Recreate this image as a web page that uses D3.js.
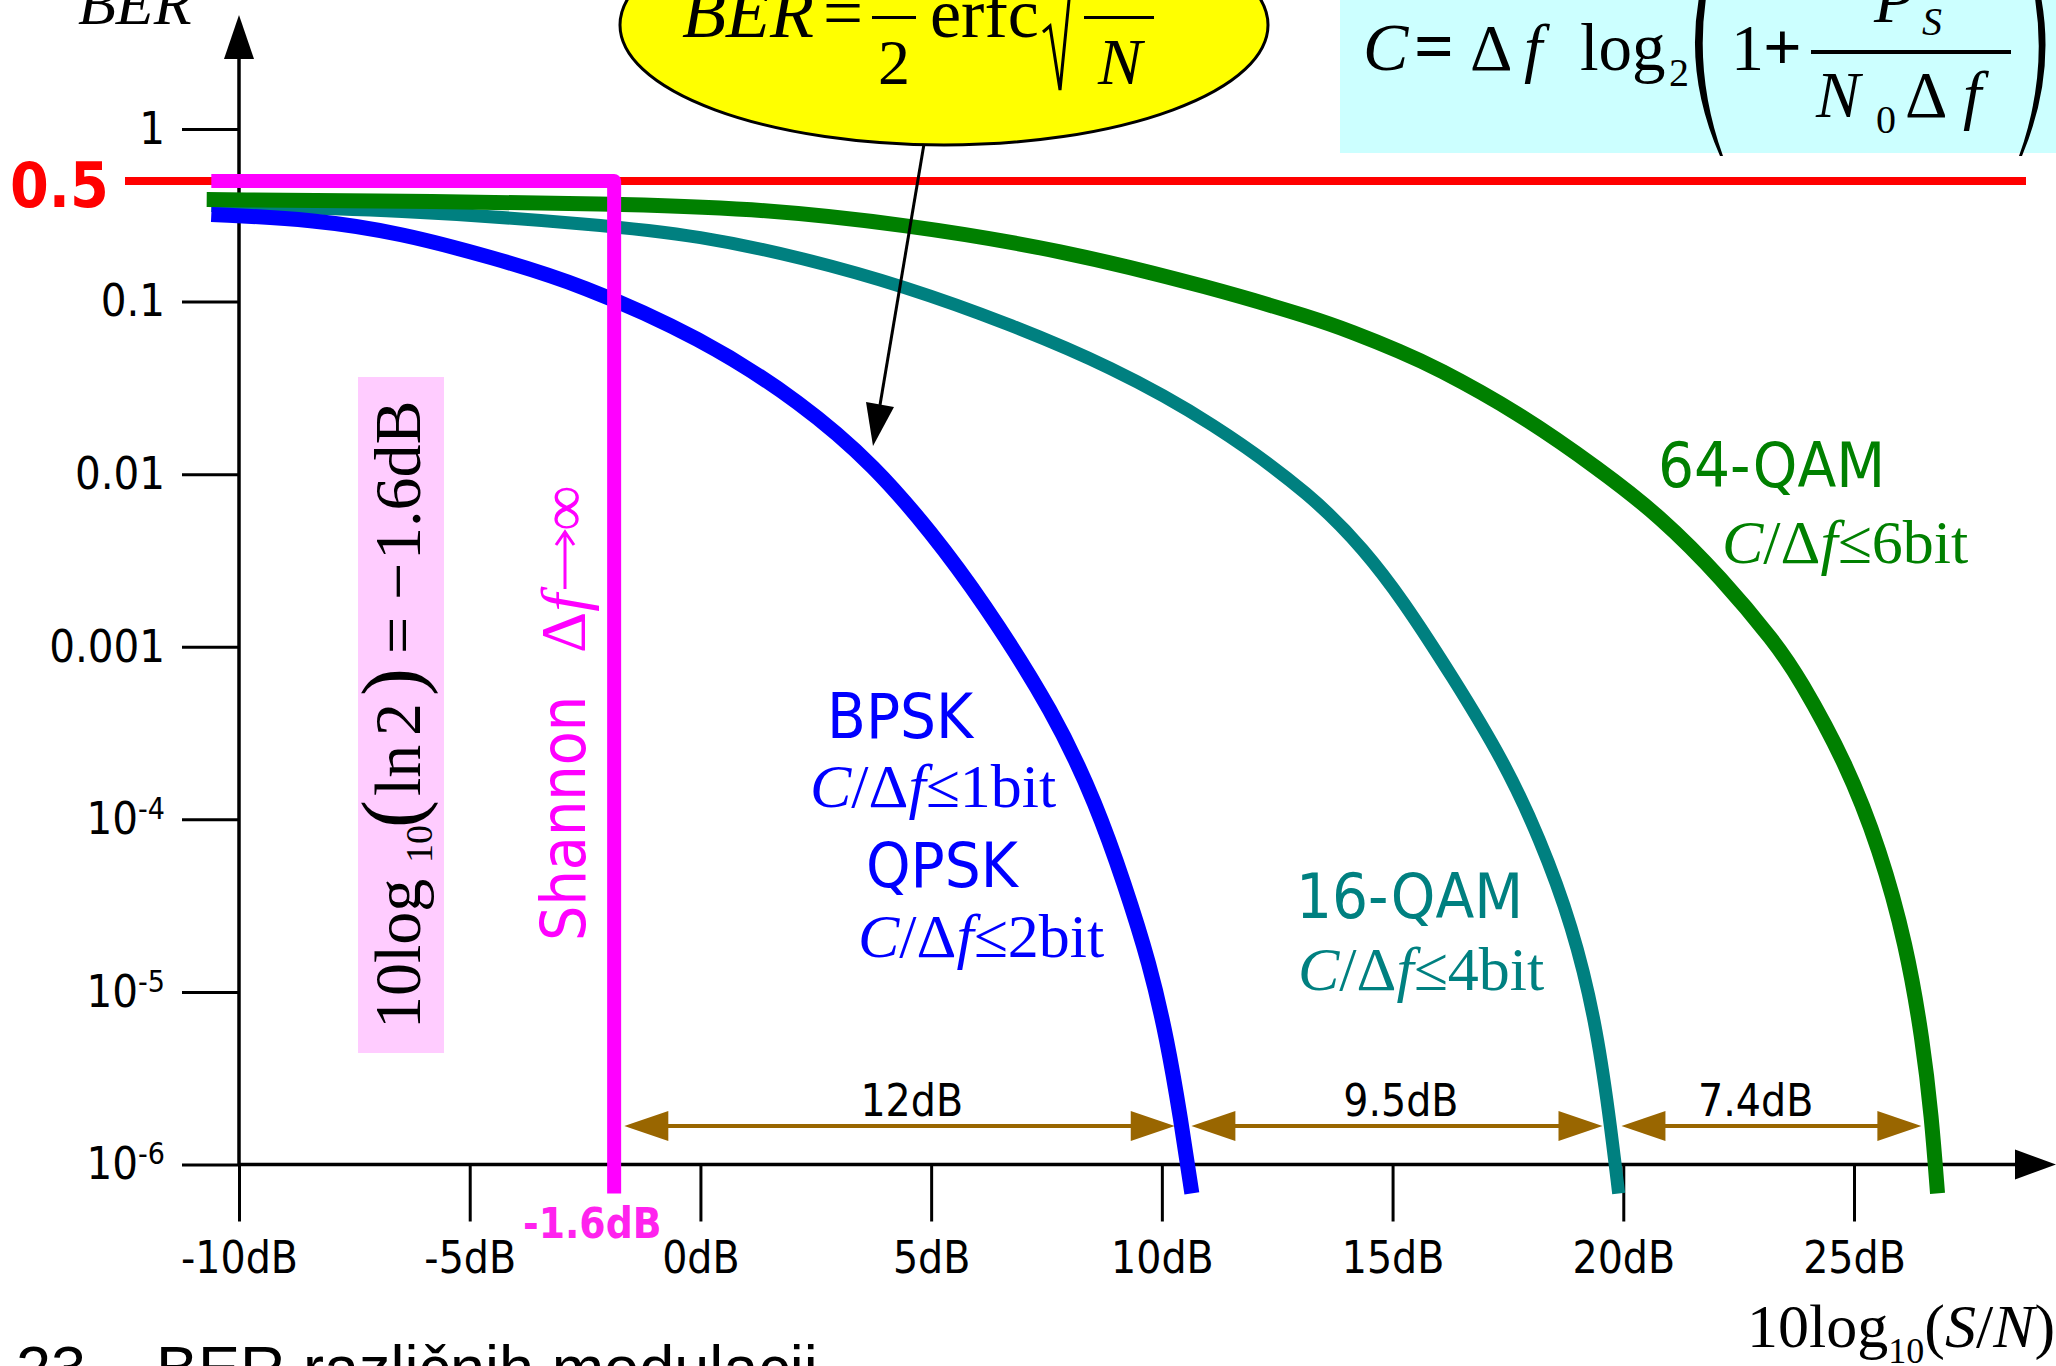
<!DOCTYPE html>
<html>
<head>
<meta charset="utf-8">
<script src="https://cdn.jsdelivr.net/npm/d3@7"></script>
<style>
body { margin: 0; background: white; }
</style>
</head>
<body>
<script>
// axis ticks
let dbTicks = [-10, -5, 0, 5, 10, 15, 20, 25];
let dbTickLabels = ["-10dB", "-5dB", "0dB", "5dB", "10dB", "15dB", "20dB", "25dB"];
let berTicks = [1, 0.1, 0.01, 0.001, 1e-4, 1e-5, 1e-6];
let berTickBase = ["1", "0.1", "0.01", "0.001", "10", "10", "10"];
let berTickExp = ["", "", "", "", "-4", "-5", "-6"];

// BER curves (dB, BER)
let bpskDb = [-10.6, -8.4, -6.5, -4.5, -2.6, 0.0, 2.2, 3.8, 5.0, 6.08, 7.68, 8.59, 9.18, 9.74, 10.12, 10.4, 10.65];
let bpskBer = [0.32, 0.30, 0.25, 0.18, 0.126, 0.062, 0.026, 0.011, 0.0046, 0.0019, 4.1e-4, 1.2e-4, 4.3e-5, 1.45e-5, 5.2e-6, 1.9e-6, 6.8e-7];

let qam16Db = [-10.6, -6.5, -2.2, 0.0, 2.2, 4.45, 6.65, 8.9, 11.1, 13.3, 14.4, 15.2, 16.3, 17.4, 18.19, 18.9, 19.4, 19.7, 19.9];
let qam16Ber = [0.36, 0.34, 0.28, 0.24, 0.18, 0.122, 0.075, 0.042, 0.020, 0.0074, 0.0036, 0.0019, 6.7e-4, 2.2e-4, 7.8e-5, 2.4e-5, 6.8e-6, 1.9e-6, 6.8e-7];

let qam64Db = [-10.7, -5.5, -2.2, 1.1, 4.45, 7.8, 11.1, 13.3, 14.1, 15.2, 15.9, 17.7, 19.5, 20.8, 22.13, 23.3, 23.8, 24.84, 25.56, 26.13, 26.49, 26.68, 26.81];
let qam64Ber = [0.39, 0.38, 0.37, 0.35, 0.28, 0.20, 0.12, 0.080, 0.067, 0.051, 0.042, 0.023, 0.0106, 0.0057, 0.0025, 0.00105, 6.7e-4, 2.1e-4, 6.7e-5, 1.9e-5, 5.2e-6, 1.9e-6, 6.8e-7];

// Shannon limit and reference level
let shannonDb = -1.87;
let shannonStartDb = -10.6;
let shannonEndBer = 6.8e-7;
let halfBer = 0.5;

// gaps between curves
let gapFromDb = [-1.65, 10.64, 19.96];
let gapToDb = [10.28, 19.55, 26.46];
let gapLabelDb = [4.58, 15.18, 22.87];
let gapLabels = ["12dB", "9.5dB", "7.4dB"];
let gapBer = 1.67e-6;

let width = 2056;
let height = 1366;

let sansCond = '"DejaVu Sans Condensed", "DejaVu Sans", sans-serif';
let serif = '"Liberation Serif", "Times New Roman", serif';
let sans = '"Liberation Sans", Arial, sans-serif';

let svg = d3
    .select("body")
    .append("svg")
    .attr("width", width)
    .attr("height", height)
    .style("display", "block")
    .style("background-color", "white");

let x = d3.scaleLinear().domain([-10, 25]).range([239, 1854]);
let y = d3.scaleLog().domain([1e-6, 1]).range([1164.5, 129]);

// background boxes
svg.append("rect")
    .attr("x", 1340).attr("y", 0).attr("width", 716).attr("height", 153)
    .style("fill", "#ccffff");

svg.append("rect")
    .attr("x", 358).attr("y", 377).attr("width", 86).attr("height", 676)
    .style("fill", "#ffccff");

svg.append("ellipse")
    .attr("cx", 944).attr("cy", 25).attr("rx", 324).attr("ry", 120)
    .style("fill", "#ffff00")
    .style("stroke", "black")
    .style("stroke-width", 3);

// x axis
let gx = svg.append("g")
    .attr("transform", "translate(0," + y(1e-6) + ")")
    .call(d3.axisBottom(x)
        .tickValues(dbTicks)
        .tickSize(57)
        .tickPadding(20)
        .tickFormat(function (d, i) { return dbTickLabels[i]; }));
gx.select(".domain").remove();
gx.selectAll("line").style("stroke", "black").style("stroke-width", 3);
gx.selectAll("text")
    .style("font-family", sansCond)
    .style("font-size", "44px")
    .style("fill", "black");

// y axis
let gy = svg.append("g")
    .attr("transform", "translate(" + x(-10) + ",0)")
    .call(d3.axisLeft(y)
        .tickValues(berTicks)
        .tickSize(57)
        .tickPadding(17)
        .tickFormat(""));
gy.select(".domain").remove();
gy.selectAll("line").style("stroke", "black").style("stroke-width", 3);
gy.selectAll("text")
    .style("font-family", sansCond)
    .style("font-size", "45px")
    .style("fill", "black")
    .each(function (d, i) {
        let t = d3.select(this);
        t.text(berTickBase[i]);
        if (berTickExp[i] !== "") {
            t.append("tspan")
                .attr("dy", "-0.5em")
                .style("font-size", "30px")
                .text(berTickExp[i]);
        }
    });

// axis lines with arrow heads
svg.append("line")
    .attr("x1", x(-10)).attr("y1", y(1e-6)).attr("x2", x(-10)).attr("y2", 40)
    .style("stroke", "black").style("stroke-width", 3.5);
svg.append("path")
    .attr("d", "M" + x(-10) + ",15 L" + (x(-10) - 15) + ",59 L" + (x(-10) + 15) + ",59 Z")
    .style("fill", "black");
svg.append("line")
    .attr("x1", x(-10)).attr("y1", y(1e-6)).attr("x2", 2025).attr("y2", y(1e-6))
    .style("stroke", "black").style("stroke-width", 3.5);
svg.append("path")
    .attr("d", "M2056," + y(1e-6) + " L2015," + (y(1e-6) - 15) + " L2015," + (y(1e-6) + 15) + " Z")
    .style("fill", "black");

// red 0.5 line
svg.append("line")
    .attr("x1", 125).attr("x2", 2026)
    .attr("y1", y(halfBer)).attr("y2", y(halfBer))
    .style("stroke", "#ff0000")
    .style("stroke-width", 8);

svg.append("text")
    .attr("x", 10)
    .attr("y", y(halfBer) + 26)
    .text("0.5")
    .style("font-family", sansCond)
    .style("font-weight", "bold")
    .style("font-size", "62px")
    .style("fill", "#ff0000");

// curves
let line = d3.line()
    .x(function (d) { return x(d[0]); })
    .y(function (d) { return y(d[1]); })
    .curve(d3.curveBasis);

let series = [
    { db: qam16Db, ber: qam16Ber, color: "#008080", w: 13 },
    { db: qam64Db, ber: qam64Ber, color: "#008000", w: 15 },
    { db: bpskDb, ber: bpskBer, color: "#0000ff", w: 15 }
];

svg.append("g")
    .selectAll("path")
    .data(series)
    .enter()
    .append("path")
    .attr("d", function (s) {
        return line(s.db.map(function (v, i) { return [v, s.ber[i]]; }));
    })
    .style("fill", "none")
    .style("stroke", function (s) { return s.color; })
    .style("stroke-width", function (s) { return s.w; });

// Shannon limit
let straight = d3.line()
    .x(function (d) { return x(d[0]); })
    .y(function (d) { return y(d[1]); });

svg.append("path")
    .attr("d", straight([
        [shannonStartDb, halfBer],
        [shannonDb, halfBer],
        [shannonDb, shannonEndBer]
    ]))
    .style("fill", "none")
    .style("stroke", "#ff00ff")
    .style("stroke-width", 14)
    .style("stroke-linejoin", "round");

svg.append("text")
    .attr("x", 523)
    .attr("y", 1238)
    .text("-1.6dB")
    .style("font-family", sansCond)
    .style("font-weight", "bold")
    .style("font-size", "42px")
    .style("fill", "#ff22ee");

// gap arrows
let brown = "#996600";
let ay = y(gapBer);
gapFromDb.forEach(function (v, i) {
    let x1 = x(v);
    let x2 = x(gapToDb[i]);
    svg.append("line")
        .attr("x1", x1 + 20).attr("x2", x2 - 20).attr("y1", ay).attr("y2", ay)
        .style("stroke", brown).style("stroke-width", 4);
    svg.append("path")
        .attr("d", "M" + x1 + "," + ay + " L" + (x1 + 44) + "," + (ay - 15) + " L" + (x1 + 44) + "," + (ay + 15) + " Z")
        .style("fill", brown);
    svg.append("path")
        .attr("d", "M" + x2 + "," + ay + " L" + (x2 - 44) + "," + (ay - 15) + " L" + (x2 - 44) + "," + (ay + 15) + " Z")
        .style("fill", brown);
    svg.append("text")
        .attr("x", x(gapLabelDb[i]))
        .attr("y", ay - 10)
        .attr("text-anchor", "middle")
        .text(gapLabels[i])
        .style("font-family", sansCond)
        .style("font-size", "44px")
        .style("fill", "black");
});

// callout arrow from the formula
svg.append("line")
    .attr("x1", 924).attr("y1", 144).attr("x2", 880).attr("y2", 405)
    .style("stroke", "black").style("stroke-width", 3);
svg.append("path")
    .attr("d", "M866,402 L894,407 L873,446 Z")
    .style("fill", "black");

// modulation labels
function ratioLabel(xp, yp, bits, color) {
    let t = svg.append("text")
        .attr("x", xp).attr("y", yp)
        .style("font-family", serif)
        .style("font-size", "62px")
        .style("fill", color);
    t.append("tspan").style("font-style", "italic").text("C");
    t.append("tspan").text("/\u0394");
    t.append("tspan").style("font-style", "italic").text("f");
    t.append("tspan").text("\u2264" + bits + "bit");
}

function nameLabel(xp, yp, name, color) {
    svg.append("text")
        .attr("x", xp).attr("y", yp)
        .text(name)
        .style("font-family", sansCond)
        .style("font-size", "63px")
        .style("fill", color);
}

nameLabel(827, 738, "BPSK", "#0000ff");
ratioLabel(810, 807, "1", "#0000ff");
nameLabel(866, 887, "QPSK", "#0000ff");
ratioLabel(858, 957, "2", "#0000ff");
nameLabel(1296, 918, "16-QAM", "#008080");
ratioLabel(1298, 990, "4", "#008080");
nameLabel(1658, 487, "64-QAM", "#008000");
ratioLabel(1722, 563, "6", "#008000");

// rotated Shannon label
let sh = svg.append("g").attr("transform", "translate(585,941) rotate(-90)");
sh.append("text")
    .text("Shannon")
    .style("font-family", sansCond)
    .style("font-size", "62px")
    .style("fill", "#ff00ff");
let shf = sh.append("text")
    .attr("x", 288)
    .style("font-family", serif)
    .style("font-size", "64px")
    .style("fill", "#ff00ff");
shf.append("tspan").text("\u0394");
shf.append("tspan").style("font-style", "italic").text("f");
shf.append("tspan").attr("x", 410).text("\u221e");
sh.append("path")
    .attr("d", "M352,-20 L408,-20 M396,-29 L409,-20 L396,-11")
    .style("fill", "none")
    .style("stroke", "#ff00ff")
    .style("stroke-width", 3);

// rotated -1.6 dB formula in pink box
let pk = svg.append("g").attr("transform", "translate(420,1029) rotate(-90)")
    .append("text")
    .style("font-family", serif)
    .style("font-size", "66px")
    .style("fill", "black");
pk.append("tspan").attr("x", 0).text("10log");
pk.append("tspan").attr("x", 166).attr("dy", 12).style("font-size", "38px").text("10");
pk.append("tspan").attr("x", 201).attr("dy", -12).style("font-size", "84px").text("(");
pk.append("tspan").attr("x", 233).text("ln");
pk.append("tspan").attr("x", 293).text("2");
pk.append("tspan").attr("x", 333).style("font-size", "84px").text(")");
pk.append("tspan").attr("x", 375).text("=");
pk.append("tspan").attr("x", 429).text("\u2212");
pk.append("tspan").attr("x", 469).text("1.6dB");

// formula in the yellow ellipse
function ftext(xp, yp, s, size, italic, anchor) {
    return svg.append("text")
        .attr("x", xp).attr("y", yp)
        .attr("text-anchor", anchor || "start")
        .text(s)
        .style("font-family", serif)
        .style("font-size", size + "px")
        .style("font-style", italic ? "italic" : "normal")
        .style("fill", "black");
}

ftext(682, 37, "BER", 72, true);
ftext(823, 37, "=", 71, false);
svg.append("rect").attr("x", 872).attr("y", 16).attr("width", 44).attr("height", 3).style("fill", "black");
ftext(894, 84, "2", 64, false, "middle");
ftext(930, 37, "erfc", 70, false);
svg.append("path")
    .attr("d", "M1043,32 L1050,26 L1060,90 L1071,-20")
    .style("fill", "none").style("stroke", "black").style("stroke-width", 3);
svg.append("rect").attr("x", 1084).attr("y", 16).attr("width", 70).attr("height", 3).style("fill", "black");
ftext(1120, 84, "N", 66, true, "middle");

// Shannon capacity formula in the cyan box
ftext(1363, 70, "C", 68, true);
ftext(1414, 70, "=", 70, false).style("font-weight", "bold");
ftext(1470, 70, "\u0394", 66, false);
ftext(1524, 70, "f", 66, true);
ftext(1580, 70, "log", 67, false);
ftext(1669, 86, "2", 40, false);
ftext(1731, 70, "1", 66, false);
ftext(1763, 70, "+", 68, false).style("font-weight", "bold");
svg.append("rect").attr("x", 1811).attr("y", 50).attr("width", 200).attr("height", 4).style("fill", "black");
ftext(1874, 22, "P", 66, true);
ftext(1922, 35, "S", 40, true);
ftext(1816, 117, "N", 66, true);
ftext(1876, 133, "0", 40, false);
ftext(1905, 117, "\u0394", 66, false);
ftext(1963, 117, "f", 66, true);
svg.append("path")
    .attr("d", "M1716,-60 Q1672,47 1720,156 L1723,156 Q1684,47 1720,-60 Z")
    .style("fill", "black");
svg.append("path")
    .attr("d", "M2024,-60 Q2068,47 2022,156 L2019,156 Q2058,47 2020,-60 Z")
    .style("fill", "black");

// axis titles
ftext(78, 24, "BER", 62, true);

let xt = svg.append("text")
    .attr("x", 1747).attr("y", 1347)
    .style("font-family", serif)
    .style("font-size", "62px")
    .style("fill", "black");
xt.append("tspan").text("10log");
xt.append("tspan").attr("dy", 16).style("font-size", "36px").text("10");
xt.append("tspan").attr("dy", -16).text("(");
xt.append("tspan").style("font-style", "italic").text("S");
xt.append("tspan").text("/");
xt.append("tspan").style("font-style", "italic").text("N");
xt.append("tspan").text(")");

// caption (cut at the bottom edge)
let cap = svg.append("text")
    .attr("x", 16).attr("y", 1390)
    .style("font-family", sans)
    .style("font-size", "63px")
    .style("fill", "black");
cap.append("tspan").text("23. \u2013");
cap.append("tspan").attr("x", 156).text("BER razli\u010dnih modulacij");
</script>
</body>
</html>
